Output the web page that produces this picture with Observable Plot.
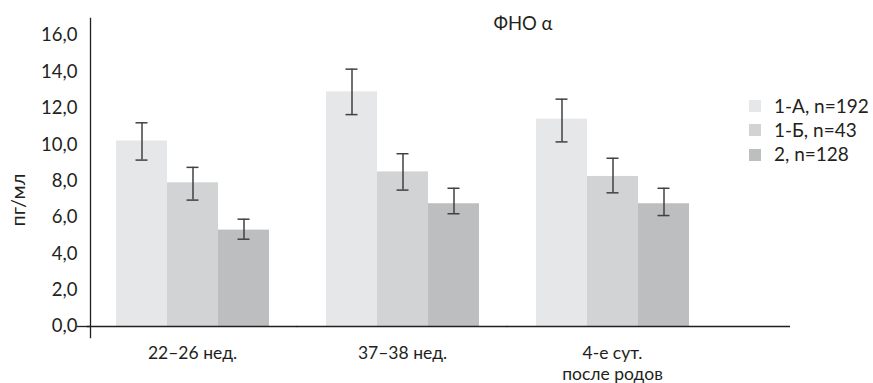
<!DOCTYPE html>
<html>
<head>
<meta charset="utf-8">
<script src="https://cdn.jsdelivr.net/npm/d3@7"></script>
<script src="https://cdn.jsdelivr.net/npm/@observablehq/plot@0.6"></script>
<style>
  body { margin: 0; background: #fff; }
  #wrap { position: relative; width: 873px; height: 383px; font-family: Lato, sans-serif; color: #231f20; }
  #title { position: absolute; left: 463px; width: 120px; top: 14px; text-align: center; font-size: 18.5px; line-height: 18px; }
  #ylab { position: absolute; width: 80px; height: 20px; line-height: 20px; font-size: 20px; text-align: center;
          left: -23px; top: 190px; transform: rotate(-90deg); }
  .lg { position: absolute; left: 749px; height: 18px; line-height: 18px; font-size: 19px; white-space: nowrap; }
  .lg span.sw { position: absolute; left: 0; top: 3.4px; width: 12px; height: 12px; }
  .lg span.tx { position: absolute; left: 25px; top: 0; }
  svg { position: absolute; left: 0; top: 0; }
</style>
</head>
<body>
<div id="wrap">
  <div id="chart"></div>
  <div id="title">ФНО α</div>
  <div id="ylab">пг/мл</div>
  <div id="legend"></div>
</div>
<script>
// ---- data ----
const groups = ["22–26 нед.", "37–38 нед.", "4-е сут.\nпосле родов"];
const series = ["1-А, n=192", "1-Б, n=43", "2, n=128"];
const colors = ["#e6e7e8", "#d1d3d4", "#bcbec0"];
const meanA = [10.2, 12.9, 11.4];
const meanB = [7.9, 8.5, 8.25];
const mean2 = [5.3, 6.75, 6.75];
const lowA = [9.15, 11.65, 10.15];
const lowB = [6.95, 7.5, 7.35];
const low2 = [4.8, 6.2, 6.1];
const highA = [11.2, 14.15, 12.5];
const highB = [8.75, 9.5, 9.25];
const high2 = [5.9, 7.6, 7.6];
const yTicks = [0, 2, 4, 6, 8, 10, 12, 14, 16];
const title = "ФНО α";
const yLabel = "пг/мл";

const means = [meanA, meanB, mean2];
const lows = [lowA, lowB, low2];
const highs = [highA, highB, high2];
const data = [];
groups.forEach((g, gi) => series.forEach((s, si) => {
  data.push({group: g, series: s, value: means[si][gi], lo: lows[si][gi], hi: highs[si][gi]});
}));

const ink = "#231f20";
const errInk = "#414042";
const fmt = d => d.toFixed(1).replace(".", ",");

const plot = Plot.plot({
  width: 873,
  height: 383,
  marginTop: 18,
  marginBottom: 46,
  marginLeft: 90,
  marginRight: 83,
  style: {color: ink, fontFamily: "Lato, sans-serif", fontSize: "18.5px", background: "transparent"},
  fx: {domain: groups, paddingInner: 0.03, paddingOuter: 0.181, align: 0},
  x: {domain: series, paddingInner: 0, paddingOuter: 0.498, axis: null},
  y: {domain: [0, 16], range: [326, 35], axis: null},
  color: {domain: series, range: colors},
  marks: [
    Plot.barY(data, {fx: "group", x: "series", y: "value", fill: "series"}),
    Plot.ruleX(data, {fx: "group", x: "series", y1: "lo", y2: "hi", stroke: errInk, strokeWidth: 1.5}),
    Plot.tickY(data, {fx: "group", x: "series", y: "lo", stroke: errInk, strokeWidth: 1.5, insetLeft: 19.5, insetRight: 19.5}),
    Plot.tickY(data, {fx: "group", x: "series", y: "hi", stroke: errInk, strokeWidth: 1.5, insetLeft: 19.5, insetRight: 19.5}),
    Plot.frame({anchor: "left", facet: "super", stroke: ink, strokeWidth: 1.3}),
    Plot.ruleY([0], {stroke: ink, strokeWidth: 1.5, insetLeft: -3.3, insetRight: -3.3}),
    Plot.ruleY([0], {facetAnchor: "right", stroke: ink, strokeWidth: 1.5, insetLeft: 207.1, insetRight: -76}),
    Plot.axisY({ticks: yTicks, tickSize: 0, tickPadding: 13, tickFormat: fmt, label: null, fontSize: 18.5}),
    Plot.axisY({ticks: [0], tickSize: 13, tickFormat: () => "", label: null, strokeWidth: 1.3}),
    Plot.axisFx({anchor: "bottom", tickSize: 0, tickPadding: 7, label: null, fontSize: 17.5, lineHeight: 1.17})
  ]
});
document.getElementById("chart").appendChild(plot);
document.getElementById("title").textContent = title;
document.getElementById("ylab").textContent = yLabel;

const lg = document.getElementById("legend");
series.forEach((s, i) => {
  const row = document.createElement("div");
  row.className = "lg";
  row.style.top = (96.6 + i * 24.3) + "px";
  row.innerHTML = `<span class="sw" style="background:${colors[i]}"></span><span class="tx"></span>`;
  row.querySelector(".tx").textContent = s;
  lg.appendChild(row);
});
</script>
</body>
</html>
